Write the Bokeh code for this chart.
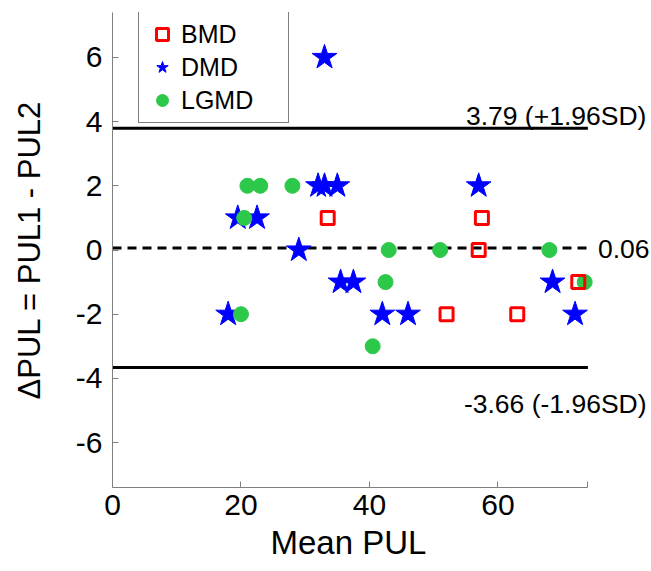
from bokeh.plotting import figure
from bokeh.models import Range1d, Label, Legend, LegendItem, FixedTicker, Title
from bokeh.embed import file_html
from bokeh.resources import INLINE

# ---- data ----
bmd_mean = [33.5, 57.5, 57, 72.5, 52, 63]
bmd_diff = [1, 1, 0, -1, -2, -2]
dmd_mean = [33, 32, 33, 35, 57, 19.5, 22.5, 29, 35.5, 37.5, 68.5, 18, 42, 46, 72]
dmd_diff = [6, 2, 2, 2, 2, 1, 1, 0, -1, -1, -1, -2, -2, -2, -2]
lgmd_mean = [21, 23, 28, 20.5, 43, 51, 68, 42.5, 73.5, 20, 40.5]
lgmd_diff = [2, 2, 2, 1, 0, 0, 0, -1, -1, -2, -3]

mean_diff = 0.06
upper_loa = 3.79
lower_loa = -3.66
upper_text = "3.79 (+1.96SD)"
mean_text = "0.06"
lower_text = "-3.66 (-1.96SD)"

x_ticks = [0, 20, 40, 60]
y_ticks = [-6, -4, -2, 0, 2, 4, 6]
y_tick_labels = ["-6", "-4", "-2", "0", "2", "4", "6"]

FONT = "Liberation Sans"
X_END = 74          # end of the drawn x axis
X_VIEW_END = 83.9   # extra room on the right for the annotations
Y_LIM = 7.4

p = figure(width=651, height=571, output_backend="svg", toolbar_location=None,
           x_range=Range1d(0, X_VIEW_END), y_range=Range1d(-Y_LIM, Y_LIM),
           min_border_left=112, min_border_right=0, min_border_top=12, min_border_bottom=84)
p.outline_line_color = None
p.grid.visible = False
p.background_fill_color = "white"

for ax in (p.xaxis[0], p.yaxis[0]):
    ax.axis_line_color = "#808080"
    ax.axis_line_width = 1
    ax.major_tick_line_color = "#808080"
    ax.major_tick_in = 6
    ax.major_tick_out = 0
    ax.minor_tick_line_color = None
    ax.major_label_text_font = FONT
    ax.major_label_text_font_size = "30px"
    ax.major_label_text_color = "black"
    ax.axis_label_text_font = FONT
    ax.axis_label_text_font_size = "31px"
    ax.axis_label_text_font_style = "normal"
    ax.axis_label_text_color = "black"

p.xaxis.bounds = (0, X_END)
p.xaxis.ticker = FixedTicker(ticks=x_ticks + [X_END])
p.xaxis.major_label_overrides = {X_END: ""}
p.yaxis.ticker = FixedTicker(ticks=y_ticks)
p.yaxis.major_label_overrides = dict(zip(y_ticks, y_tick_labels))
p.yaxis.axis_label = "ΔPUL = PUL1 - PUL2"
p.xaxis.major_label_standoff = 7
p.xaxis.axis_label_standoff = 0
p.yaxis.major_label_standoff = 10
p.yaxis.axis_label_standoff = 26

# x axis title, placed under the drawn part of the axis
p.add_layout(Title(text="Mean PUL", align="left", offset=158, standoff=9,
                   vertical_align="bottom",
                   text_font=FONT, text_font_size="33px", text_font_style="normal",
                   text_color="black"), "below")

# limit lines
p.segment(x0=[0, 0], x1=[X_END, X_END], y0=[upper_loa, lower_loa], y1=[upper_loa, lower_loa],
          line_color="black", line_width=3)
p.segment(x0=[0], x1=[X_END], y0=[mean_diff], y1=[mean_diff],
          line_color="black", line_width=3, line_dash="9 6")

# points
r_dmd = p.scatter(dmd_mean, dmd_diff, marker="star", size=26, fill_color="#0000FF",
                  line_color="#0000FF", line_width=1)
r_lgmd = p.scatter(lgmd_mean, lgmd_diff, marker="circle", size=15, fill_color="#2CC84A",
                   line_color="#2CC84A", line_width=1)
r_bmd = p.scatter(bmd_mean, bmd_diff, marker="square", size=13, fill_color=None,
                  line_color="#FF0000", line_width=3)

# annotations (left aligned so their start points are exact)
for val, txt, dx, dy in ((upper_loa, upper_text, -122, 12), (mean_diff, mean_text, 10, -1),
                         (lower_loa, lower_text, -124, -37)):
    p.add_layout(Label(x=X_END, y=val, text=txt, x_offset=dx, y_offset=dy,
                       text_align="left", text_baseline="alphabetic",
                       text_font=FONT, text_font_size="26.5px", text_color="black"))

legend = Legend(items=[LegendItem(label="BMD", renderers=[r_bmd]),
                       LegendItem(label="DMD", renderers=[r_dmd]),
                       LegendItem(label="LGMD", renderers=[r_lgmd])],
                location=(26, 364))
legend.label_text_font = FONT
legend.label_text_font_size = "25px"
legend.label_text_color = "black"
legend.border_line_color = "black"
legend.border_line_width = 1.5
legend.padding = 7
legend.spacing = 3
legend.glyph_width = 32
legend.glyph_height = 30
legend.label_height = 30
legend.label_standoff = 3
legend.label_width = 100
legend.margin = 0
legend.background_fill_alpha = 1
p.add_layout(legend)

open("out.html", "w").write(file_html(p, INLINE))
